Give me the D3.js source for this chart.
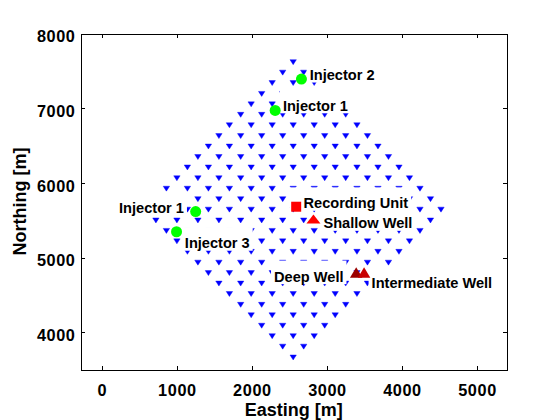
<!DOCTYPE html>
<html><head><meta charset="utf-8">
<script src="https://cdn.jsdelivr.net/npm/d3@7"></script>
<style>
body{margin:0;background:#fff}
svg text{font-family:"Liberation Sans",Arial,Helvetica,sans-serif;fill:#000}
</style>
</head><body>
<svg id="c" width="560" height="420"></svg>
<script>
// ---------- data ----------
const xTicks = [0, 1000, 2000, 3000, 4000, 5000];
const yTicks = [4000, 5000, 6000, 7000, 8000];
const xLabel = "Easting [m]";
const yLabel = "Northing [m]";

// receiver rows (northing of each row, eastings of the receivers in it)
const rowNorthing = [7620, 7480, 7340, 7195, 7055, 6915, 6775, 6630, 6490, 6350, 6210, 6065, 5925, 5785, 5645,
                     5500, 5360, 5220, 5080, 4935, 4795, 4655, 4515, 4370, 4230, 4090, 3950, 3810, 3665];
const rowEasting = [
  [2550],
  [2410, 2690],
  [2270, 2550, 2830],
  [2130, 2410, 2690, 2970],
  [1990, 2270, 2550, 2830, 3110],
  [1850, 2130, 2410, 2690, 2970, 3250],
  [1700, 1990, 2270, 2550, 2830, 3110, 3400],
  [1560, 1850, 2130, 2410, 2690, 2970, 3250, 3540],
  [1420, 1700, 1990, 2270, 2550, 2830, 3110, 3400, 3680],
  [1280, 1560, 1850, 2130, 2410, 2690, 2970, 3250, 3540, 3820],
  [1140, 1420, 1700, 1990, 2270, 2550, 2830, 3110, 3400, 3680, 3960],
  [1000, 1280, 1560, 1850, 2130, 2410, 2690, 2970, 3250, 3540, 3820, 4100],
  [860, 1140, 1420, 1700, 1990, 2270, 2550, 2830, 3110, 3400, 3680, 3960, 4240],
  [720, 1000, 1280, 1560, 1850, 2130, 2410, 2690, 2970, 3250, 3540, 3820, 4100, 4380],
  [580, 860, 1140, 1420, 1700, 1990, 2270, 2550, 2830, 3110, 3400, 3680, 3960, 4240, 4520],
  [720, 1000, 1280, 1560, 1850, 2130, 2410, 2690, 2970, 3250, 3540, 3820, 4100, 4380],
  [860, 1140, 1420, 1700, 1990, 2270, 2550, 2830, 3110, 3400, 3680, 3960, 4240],
  [1000, 1280, 1560, 1850, 2130, 2410, 2690, 2970, 3250, 3540, 3820, 4100],
  [1140, 1420, 1700, 1990, 2270, 2550, 2830, 3110, 3400, 3680, 3960],
  [1280, 1560, 1850, 2130, 2410, 2690, 2970, 3250, 3540, 3820],
  [1420, 1700, 1990, 2270, 2550, 2830, 3110, 3400, 3680],
  [1560, 1850, 2130, 2410, 2690, 2970, 3250, 3540],
  [1700, 1990, 2270, 2550, 2830, 3110, 3400],
  [1850, 2130, 2410, 2690, 2970, 3250],
  [1990, 2270, 2550, 2830, 3110],
  [2130, 2410, 2690, 2970],
  [2270, 2550, 2830],
  [2410, 2690],
  [2550]
];

// special sites
const siteNames    = ["Injector 2", "Injector 1", "Injector 1", "Injector 3", "Recording Unit", "Shallow Well", "Deep Well", "Intermediate Well"];
const siteEasting  = [2660, 2310, 1250, 995, 2590, 2820, 3390, 3495];
const siteNorthing = [7390, 6970, 5615, 5345, 5680, 5515, 4800, 4800];
const siteKind     = ["injector", "injector", "injector", "injector", "unit", "shallow", "deep", "intermediate"];

// ---------- styles ----------
const labelStyles = [ // text offset from marker (px), anchor, left padding of white box — one per site
  {dx: 8.3,   dy: 1.0,  anchor: "start", padL: 3},
  {dx: 7.7,   dy: 0.4,  anchor: "start", padL: 3},
  {dx: -11.7, dy: 1.0,  anchor: "end",   padL: 3},
  {dx: 8.3,   dy: 16.5, anchor: "start", padL: 3},
  {dx: 7.3,   dy: 1.6,  anchor: "start", padL: 14},
  {dx: 10.0,  dy: 9.3,  anchor: "start", padL: 3},
  {dx: -12.7, dy: 9.2,  anchor: "end",   padL: 3},
  {dx: 7.5,   dy: 15.3, anchor: "start", padL: 3}
];
const kindStyle = {
  injector:     {shape: "circle", fill: "#00ff00"},
  unit:         {shape: "square", fill: "#ff0000"},
  shallow:      {shape: "tri",    fill: "#ff0000", w: 14, h: 9},
  deep:         {shape: "tri",    fill: "#9a0000", w: 12.5, h: 10.5},
  intermediate: {shape: "tri",    fill: "#c80000", w: 12.5, h: 10.5}
};

const svg = d3.select("#c");
const x = d3.scaleLinear().domain([-285, 5400]).range([80.5, 507]);
const y = d3.scaleLinear().domain([3500, 8000]).range([369.5, 33.5]);

// frame + ticks
const axG = svg.append("g").attr("shape-rendering", "crispEdges");
const tickFont = "bold 16.3px 'Liberation Sans', Arial, sans-serif";

const axBottom = axG.append("g").attr("transform", `translate(0,${y(3500)})`)
  .call(d3.axisBottom(x).tickValues(xTicks).tickSizeInner(-4).tickSizeOuter(0).tickPadding(0).tickFormat(d3.format("d")));
const axTop = axG.append("g").attr("transform", `translate(0,${y(8000)})`)
  .call(d3.axisTop(x).tickValues(xTicks).tickSizeInner(-4).tickSizeOuter(0).tickFormat(""));
const axLeft = axG.append("g").attr("transform", `translate(${x(-285)},0)`)
  .call(d3.axisLeft(y).tickValues(yTicks).tickSizeInner(-4).tickSizeOuter(0).tickPadding(0).tickFormat(d3.format("d")));
const axRight = axG.append("g").attr("transform", `translate(${x(5400)},0)`)
  .call(d3.axisRight(y).tickValues(yTicks).tickSizeInner(-4).tickSizeOuter(0).tickFormat(""));

[axBottom, axTop, axLeft, axRight].forEach(g => {
  g.select(".domain").attr("stroke", "#000").attr("stroke-width", 1);
  g.selectAll(".tick line").attr("stroke", "#000").attr("stroke-width", 1);
  g.attr("font-family", null).attr("font-size", null);
});
axBottom.selectAll(".tick text").attr("y", 0).attr("dy", null)
  .attr("transform", "translate(0,26)")
  .style("font", tickFont).style("letter-spacing", "0.6px").attr("text-anchor", "middle");
axLeft.selectAll(".tick text").attr("x", 0).attr("dy", null)
  .attr("transform", "translate(-5,8.4)")
  .style("font", tickFont).style("letter-spacing", "0.6px").attr("text-anchor", "end");

// axis labels
svg.append("text").attr("x", (x.range()[0] + x.range()[1]) / 2).attr("y", 416)
  .attr("text-anchor", "middle").style("font", "bold 18px 'Liberation Sans', Arial, sans-serif").text(xLabel);
svg.append("text").attr("transform", `translate(26,${(y.range()[0] + y.range()[1]) / 2}) rotate(-90)`)
  .attr("text-anchor", "middle").style("font", "bold 18px 'Liberation Sans', Arial, sans-serif").text(yLabel);

// receivers
const receivers = [];
rowNorthing.forEach((n, i) => rowEasting[i].forEach(e => receivers.push({e, n})));
svg.append("g").selectAll("path").data(receivers).join("path")
  .attr("transform", d => `translate(${x(d.e)},${y(d.n)})`)
  .attr("d", "M-3.2,-2.2L3.2,-2.2L0,2.8Z")
  .attr("fill", "#0000ff").attr("stroke", "#0000ff").attr("stroke-width", 0.4);

// site labels with white background (all boxes, then all texts)
const sites = siteNames.map((name, i) => ({name, e: siteEasting[i], n: siteNorthing[i], kind: siteKind[i], i}));
const boxG = svg.append("g");
const txtG = svg.append("g");
sites.forEach(s => {
  const st = labelStyles[s.i];
  const rect = boxG.append("rect").attr("fill", "#fff");
  const tx = x(s.e) + st.dx, ty = y(s.n) + st.dy;
  const t = txtG.append("text").attr("x", tx).attr("y", ty).attr("text-anchor", st.anchor)
    .style("font", "bold 14.6px 'Liberation Sans', Arial, sans-serif").text(s.name);
  const bb = t.node().getBBox();
  rect.attr("x", bb.x - st.padL).attr("width", bb.width + st.padL + 3)
      .attr("y", ty - 21).attr("height", 23.5);
});

// site markers
const mk = svg.append("g");
sites.forEach(s => {
  const ks = kindStyle[s.kind];
  const cx = x(s.e), cy = y(s.n);
  if (ks.shape === "circle") {
    mk.append("circle").attr("cx", cx).attr("cy", cy).attr("r", 5.5).attr("fill", ks.fill);
  } else if (ks.shape === "square") {
    mk.append("rect").attr("x", cx - 5).attr("y", cy - 5).attr("width", 10).attr("height", 10).attr("fill", ks.fill);
  } else {
    const w = ks.w, h = ks.h;
    mk.append("path").attr("d", `M${cx - w / 2},${cy + h / 2}L${cx + w / 2},${cy + h / 2}L${cx},${cy - h / 2}Z`).attr("fill", ks.fill);
  }
});
</script>
</body></html>
